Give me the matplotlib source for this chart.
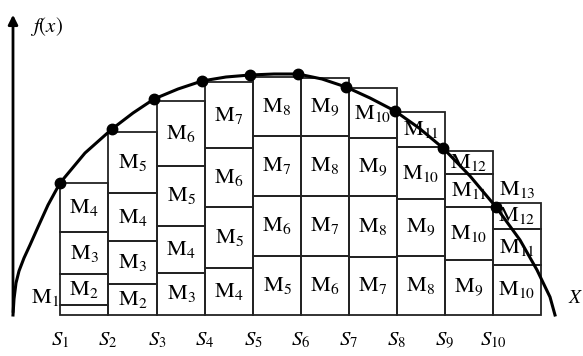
import matplotlib
matplotlib.use("Agg")
import matplotlib.pyplot as plt

plt.rcParams['mathtext.fontset'] = 'stix'
plt.rcParams['font.family'] = ['STIXGeneral', 'DejaVu Serif']

# column edges along x (pixel-like units), S_i sit on edges 1..10
edges = [13, 60, 108, 157, 205, 253, 301, 349, 397, 445, 493, 541]
s_labels = ['1', '2', '3', '4', '5', '6', '7', '8', '9', '10']

# stack boundaries (height above the x axis) for columns 2..11
stacks = [
    [0, 10, 41, 83, 132],
    [0, 31, 74, 122, 183],
    [0, 42, 89, 149, 214],
    [0, 47, 108, 167, 233],
    [0, 59, 119, 179, 238],
    [0, 59, 119, 179, 237],
    [0, 58, 119, 177, 227],
    [0, 59, 116, 168, 203],
    [0, 55, 108, 141, 164],
    [0, 50, 86, 112],
]
stack_labels = [
    [None, '2', '3', '4'],
    ['2', '3', '4', '5'],
    ['3', '4', '5', '6'],
    ['4', '5', '6', '7'],
    ['5', '6', '7', '8'],
    ['6', '7', '8', '9'],
    ['7', '8', '9', '10'],
    ['8', '9', '10', '11'],
    ['9', '10', '11', '12'],
    ['10', '11', '12'],
]

# the curve f(x)
curve_x = [13, 14, 16, 19, 24, 30, 38, 48, 60, 85, 112, 133, 154, 178, 202, 226, 250, 274,
           298, 322, 346, 370, 395, 419, 443, 470, 496, 520, 537, 550, 555]
curve_h = [0, 16, 32, 44, 57, 70, 88, 110, 132, 162, 186, 202, 216, 226, 234, 238, 240, 241,
           241, 236, 228, 217, 204, 187, 167, 139, 108, 75, 45, 18, 0]

# sample points marked on the curve
dot_x = [60, 112, 154, 202, 250, 298, 346, 395, 443, 496]
dot_h = [132, 186, 216, 234, 240, 241, 228, 204, 167, 108]

fig = plt.figure(figsize=(5.83, 3.56), dpi=100)
ax = fig.add_axes([0, 0, 1, 1])
ax.set_xlim(0, 583)
ax.set_ylim(-41, 315)
ax.axis('off')

msize = 16

# boxes
for i, (bounds, labs) in enumerate(zip(stacks, stack_labels)):
    left = edges[i + 1]
    right = edges[i + 2]
    w = right - left
    cx = (left + right) / 2
    for j in range(len(bounds) - 1):
        ax.bar(cx, bounds[j + 1] - bounds[j], bottom=bounds[j], width=w,
               fill=False, edgecolor='#222222', linewidth=1.3, zorder=2)
        if labs[j] is not None:
            ax.text(cx, (bounds[j] + bounds[j + 1]) / 2, r'$\mathrm{M}_{%s}$' % labs[j],
                    ha='center', va='center', fontsize=msize, zorder=3)

# M1 in the first strip and M13 on top of the last column
ax.text(edges[1] - 1, 18, r'$\mathrm{M}_{1}$', ha='right', va='center', fontsize=msize)
ax.text((edges[10] + edges[11]) / 2, stacks[-1][-1] + 14, r'$\mathrm{M}_{13}$',
        ha='center', va='center', fontsize=msize)

# curve and sample points
ax.plot(curve_x, curve_h, color='black', linewidth=2.2, zorder=4)
ax.plot(dot_x, dot_h, 'o', color='black', markersize=7.5, zorder=5)

# axes with arrows
ax.annotate('', xy=(13, 303), xytext=(13, 0),
            arrowprops=dict(arrowstyle='-|>', color='black', lw=2, mutation_scale=14))
ax.annotate('', xy=(585, 0), xytext=(13, 0),
            arrowprops=dict(arrowstyle='-|>', color='black', lw=2, mutation_scale=14))

ax.text(30, 288, r'$f(x)$', fontsize=15, ha='left', va='center')
ax.text(568, 17, r'$X$', fontsize=14, ha='left', va='center')

for k, s in enumerate(s_labels):
    ax.text(edges[k + 1], -25, r'$S_{%s}$' % s, fontsize=15, ha='center', va='center')

fig.savefig('out.png', dpi=100)
